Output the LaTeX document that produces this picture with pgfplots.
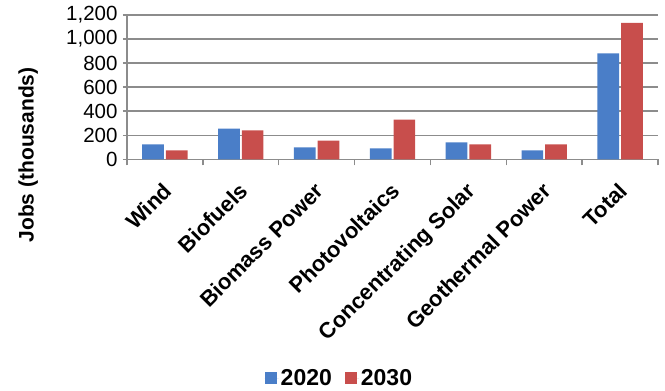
\documentclass[border=0pt]{standalone}
\usepackage{pgfplots}
\pgfplotsset{compat=1.18}
\usepackage{fontspec}
\setmainfont{Liberation Sans}

\definecolor{bar2020}{RGB}{74,126,200}
\definecolor{bar2030}{RGB}{200,78,76}
\definecolor{gridgray}{RGB}{140,140,140}

\newcommand{\chartfont}{\fontsize{20.5}{24}\selectfont}
\newcommand{\boldfont}{\fontsize{22}{26}\selectfont\bfseries}

\begin{document}
\begin{tikzpicture}
\begin{axis}[
  name=ax,
  scale only axis,
  width=531pt, height=144.3pt,
  ybar, bar width=21.7pt,
  xmin=-0.5, xmax=6.5,
  ymin=0, ymax=1200,
  ytick={0,200,...,1200},
  xtick={0,...,6},
  xticklabels={Wind,Biofuels,Biomass Power,Photovoltaics,Concentrating Solar,Geothermal Power,Total},
  minor xtick={-0.5,0.5,...,6.5},
  xtick style={draw=none},
  minor x tick style={draw=gridgray, line width=1.5pt},
  y tick style={draw=gridgray, line width=1.5pt},
  minor tick length=6pt,
  major tick length=4pt,
  tick align=outside,
  axis lines*=left,
  axis line style={draw=gridgray, line width=1.5pt},
  ymajorgrids,
  grid style={draw=gridgray, line width=1.5pt},
  /pgf/number format/assume math mode=true,
  /pgf/number format/1000 sep={,},
  ticklabel style={font=\chartfont},
  yticklabel style={xshift=-2pt},
  xticklabel style={font=\boldfont, xshift=-3pt, rotate=45, anchor=north east, inner sep=2pt},
  xticklabel shift=15pt,
  ylabel={Jobs (thousands)},
  ylabel style={font=\fontsize{21}{25}\selectfont\bfseries, at={(axis description cs:-0.186,0.03)}, anchor=center},
  legend style={draw=none, font=\fontsize{23}{27}\selectfont\bfseries, legend columns=2,
    at={(axis description cs:0.40,-1.516)}, anchor=center,
    /tikz/every even column/.append style={column sep=11pt}},
  legend image code/.code={\fill[#1] (0pt,-6pt) rectangle (12pt,6pt);
    \path (0pt,0pt) -- (14pt,0pt);},
]
\addplot[fill=bar2020, draw=none] coordinates {
  (0,125) (1,255) (2,100) (3,90) (4,140) (5,75) (6,880)};
\addplot[fill=bar2030, draw=none] coordinates {
  (0,75) (1,240) (2,155) (3,330) (4,125) (5,125) (6,1135)};
\legend{2020,2030}
\end{axis}
\path ([xshift=-127pt,yshift=-229.7pt]ax.south west) rectangle ([xshift=7pt,yshift=15pt]ax.north east);
\end{tikzpicture}
\end{document}
